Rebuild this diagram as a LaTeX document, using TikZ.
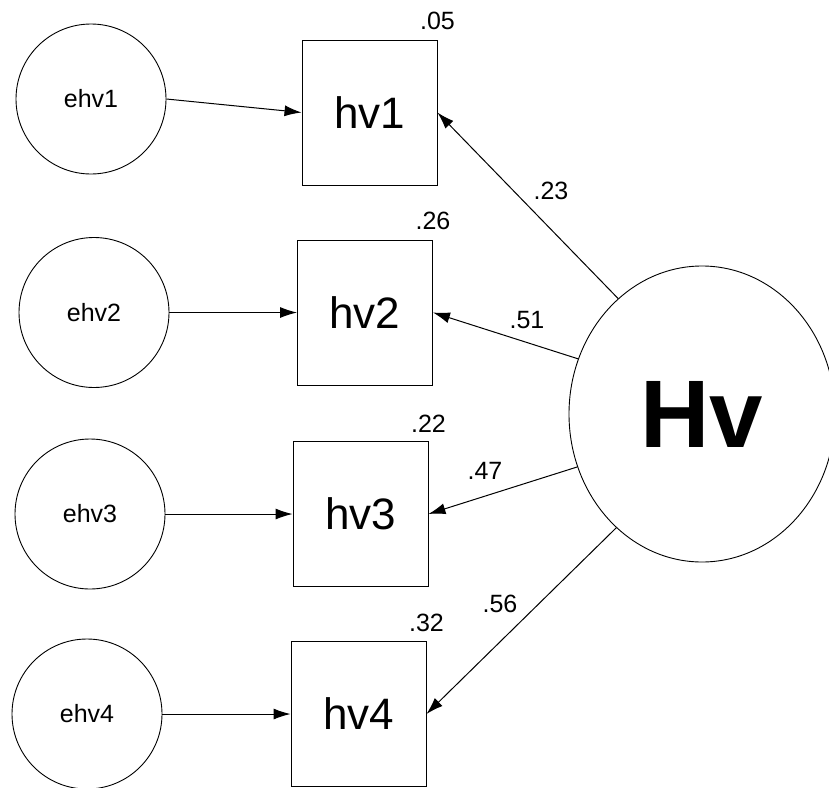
\documentclass[tikz,border=0pt]{standalone}
\usepackage{fontspec}
\setmainfont{Liberation Sans}
\usetikzlibrary{arrows.meta,shapes.geometric}

\begin{document}
\begin{tikzpicture}[
  x=1pt,y=-1pt,
  errvar/.style={draw,circle,line width=0.9pt,minimum size=150pt,inner sep=0pt,font=\fontsize{25}{30}\selectfont},
  item/.style={draw,rectangle,line width=0.9pt,minimum width=135pt,minimum height=145pt,inner sep=0pt,font=\fontsize{44}{50}\selectfont},
  factor/.style={draw,ellipse,line width=0.9pt,minimum width=266pt,minimum height=296pt,inner sep=0pt,font=\fontsize{96}{100}\selectfont\bfseries},
  coef/.style={inner sep=1pt,font=\fontsize{25}{30}\selectfont},
  rsq/.style={coef,anchor=base},
  arrow/.style={-{Latex[length=17pt,width=11pt]},line width=1pt}
]
\useasboundingbox (0,0) rectangle (829,787);

% error terms
\node[errvar] (e1) at (91,99) {ehv1};
\node[errvar] (e2) at (94,312.5) {ehv2};
\node[errvar] (e3) at (90,514) {ehv3};
\node[errvar] (e4) at (87,714) {ehv4};

% observed items
\node[item] (h1) at (369.5,112.5) {hv1};
\node[item] (h2) at (365,312.5) {hv2};
\node[item] (h3) at (360.5,514) {hv3};
\node[item] (h4) at (358.5,714) {hv4};

% latent factor
\node[factor] (Hv) at (702,414) {Hv};

% squared multiple correlations
\node[rsq] (r1) at ([yshift=10pt]h1.north east) {.05};
\node[rsq] (r2) at ([yshift=10pt]h2.north east) {.26};
\node[rsq] (r3) at ([yshift=9pt]h3.north east) {.22};
\node[rsq] (r4) at ([yshift=10pt]h4.north east) {.32};

\draw[arrow] (e1.east) -- (h1.west);
\draw[arrow] (e2.east) -- (h2.west);
\draw[arrow] (e3.east) -- (h3.west);
\draw[arrow] (e4.east) -- (h4.west);

\draw[arrow] (Hv.126) -- (h1.east);
\draw[arrow] (Hv.156) -- (h2.east);
\draw[arrow] (Hv.203) -- (h3.east);
\draw[arrow] (Hv.233) -- (h4.east);

% loadings
\node[coef] (w1) at (551,191) {.23};
\node[coef] (w2) at (527,320) {.51};
\node[coef] (w3) at (485,471) {.47};
\node[coef] (w4) at (500,604) {.56};
\end{tikzpicture}
\end{document}
